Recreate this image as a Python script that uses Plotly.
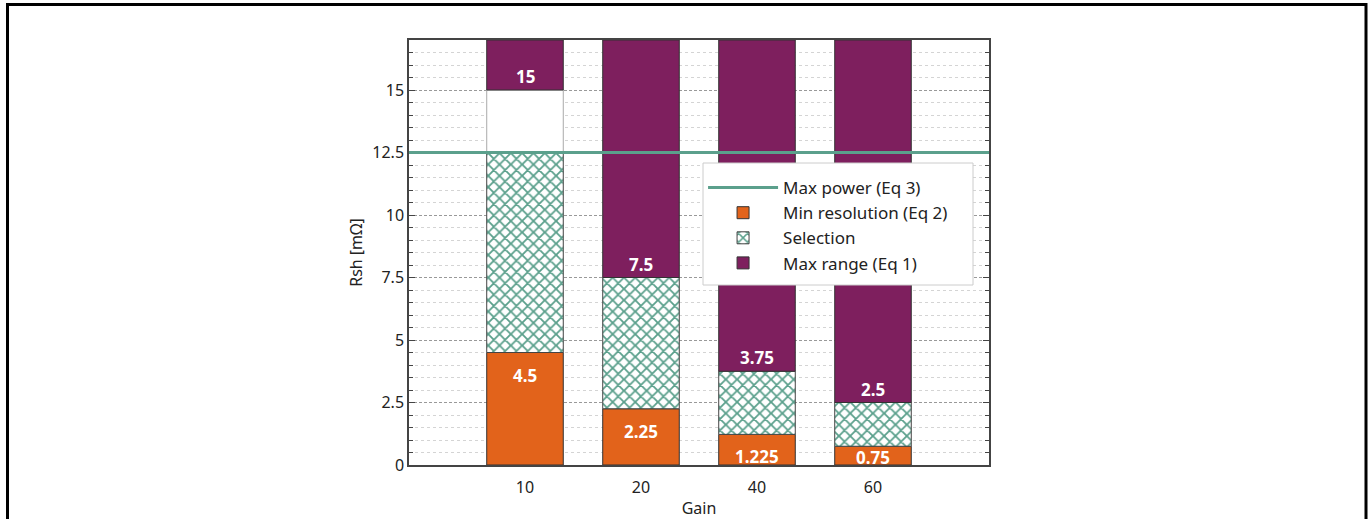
import plotly.graph_objects as go

gains = ["10", "20", "40", "60"]
min_resolution = [4.5, 2.25, 1.225, 0.75]   # Eq 2
max_range = [15, 7.5, 3.75, 2.5]            # Eq 1
max_power = 12.5                            # Eq 3
y_max = 17

ORANGE = "#E2631B"
PURPLE = "#7E1F5E"
GREEN = "#5BA08C"
FONT = "Noto Sans"

sel_top = [min(r, max_power) for r in max_range]
sel_height = [t - m for t, m in zip(sel_top, min_resolution)]
gap_height = [max(r - max_power, 0) for r in max_range]
purple_height = [y_max - r for r in max_range]

fig = go.Figure()

# legend entry for Max power line
fig.add_trace(go.Scatter(x=[None], y=[None], mode="lines", name="Max power (Eq 3)",
                         line=dict(color=GREEN, width=3)))

fig.add_trace(go.Bar(x=gains, y=min_resolution, base=[0] * 4, name="Min resolution (Eq 2)",
                     marker=dict(color=ORANGE, line=dict(color="#333333", width=1)),
                     width=0.66))

fig.add_trace(go.Bar(x=gains, y=sel_height, base=min_resolution, name="Selection",
                     marker=dict(color="white", line=dict(color="#444444", width=1),
                                 pattern=dict(shape="x", fgcolor=GREEN, bgcolor="white",
                                              size=8, solidity=0.4, fgopacity=1)),
                     width=0.66))

fig.add_trace(go.Bar(x=gains, y=gap_height, base=[max_power] * 4, showlegend=False,
                     marker=dict(color="white", line=dict(color="#aaaaaa", width=1)),
                     width=0.66, hoverinfo="skip"))

fig.add_trace(go.Bar(x=gains, y=purple_height, base=max_range, name="Max range (Eq 1)",
                     marker=dict(color=PURPLE, line=dict(color="#333333", width=1)),
                     width=0.66))

annotations = []
for i, v in enumerate(min_resolution):
    annotations.append(dict(x=i, y=max(v - 0.9, 0.32), xref="x", yref="y",
                            text=f"<b>{v:g}</b>", showarrow=False, yanchor="middle",
                            font=dict(family=FONT, size=17, color="white")))
for i, v in enumerate(max_range):
    annotations.append(dict(x=i, y=v, xref="x", yref="y", text=f"<b>{v:g}</b>", showarrow=False,
                            yanchor="bottom", yshift=0,
                            font=dict(family=FONT, size=17, color="white")))

shapes = [
    dict(type="line", xref="paper", x0=0, x1=1, yref="y", y0=max_power, y1=max_power,
         line=dict(color=GREEN, width=3), layer="above"),
    # legend box
    dict(type="rect", xref="paper", yref="paper", x0=(703 - 409) / 580, x1=(973 - 409) / 580,
         y0=(465 - 285) / 425, y1=(465 - 163) / 425, fillcolor="white",
         line=dict(color="#cccccc", width=1), layer="above"),
    # outer frame of the picture
    dict(type="rect", xref="paper", yref="paper", x0=(7.5 - 409) / 580, x1=(1366 - 409) / 580,
         y0=-0.2, y1=(465 - 4.5) / 425, line=dict(color="black", width=3), layer="below"),
]

fig.update_layout(
    width=1370, height=519,
    margin=dict(l=409, r=381, t=40, b=54),
    paper_bgcolor="white", plot_bgcolor="white",
    barmode="overlay",
    font=dict(family=FONT, size=16, color="#222222"),
    showlegend=True,
    legend=dict(x=0.507, y=0.694, xanchor="left", yanchor="top",
                bgcolor="rgba(0,0,0,0)", borderwidth=0,
                font=dict(family=FONT, size=17, color="#222222"),
                traceorder="normal", tracegroupgap=0, itemwidth=70),
    annotations=annotations,
    shapes=shapes,
)

fig.update_xaxes(type="category", range=[-1, 4], showline=True, linecolor="#444444", linewidth=1.5,
                 mirror=True, ticks="", showgrid=False, zeroline=False, ticklabelstandoff=7,
                 automargin=False,
                 title=dict(text="Gain", standoff=6, font=dict(size=16)),
                 tickfont=dict(size=16))
fig.update_yaxes(range=[0, y_max], dtick=2.5, tick0=0, showline=True, linecolor="#444444", linewidth=1.5,
                 mirror="ticks", ticks="inside", ticklen=6, tickcolor="#444444",
                 showgrid=True, gridcolor="#999999", griddash="3px,2px", gridwidth=1,
                 zeroline=False, automargin=False,
                 minor=dict(dtick=0.5, showgrid=True, gridcolor="#d4d4d4", griddash="3px,3px",
                            ticks="inside", ticklen=4, tickcolor="#444444"),
                 title=dict(text="Rsh [mΩ]", standoff=6, font=dict(size=16)),
                 tickfont=dict(size=16))

fig.write_html("out.html", config={"displayModeBar": False},
               post_script="document.body.style.margin='0';")
